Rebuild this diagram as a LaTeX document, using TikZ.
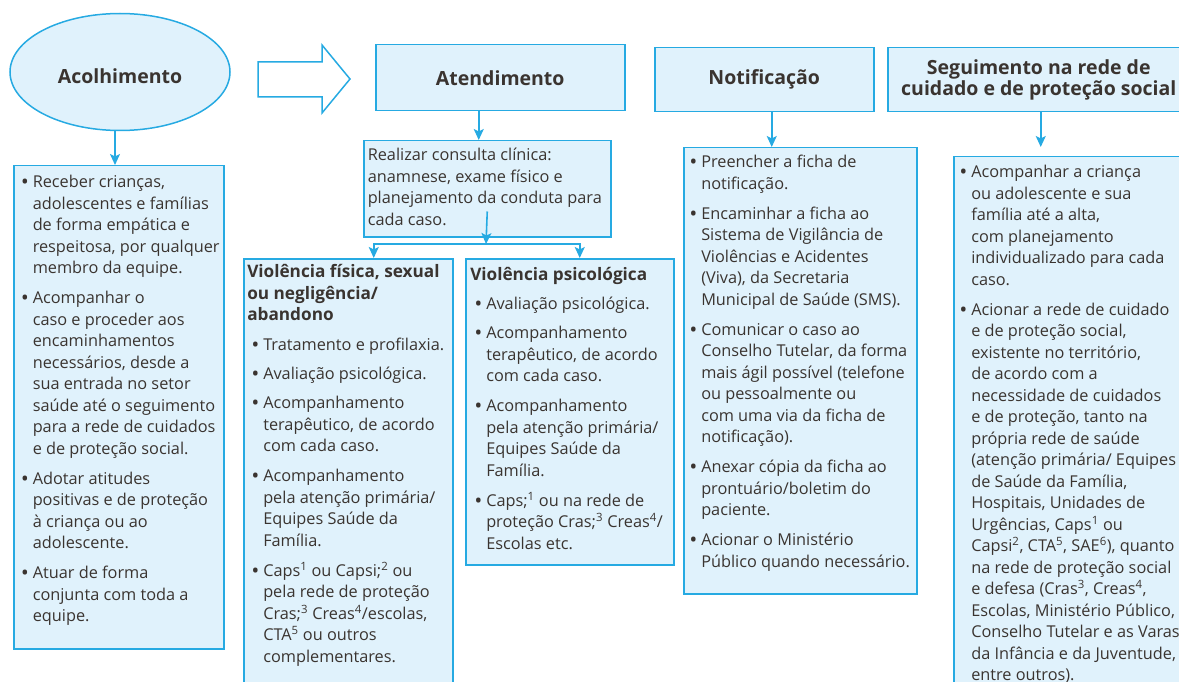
\documentclass[tikz,border=0pt]{standalone}
\usepackage{fontspec}
\setmainfont{Open Sans}
\usetikzlibrary{shapes.geometric, arrows.meta}
\definecolor{azul}{RGB}{38,170,226}
\definecolor{fundo}{RGB}{224,242,252}
\definecolor{texto}{RGB}{58,52,48}
\newlength{\bw}
\setlength{\bw}{11pt}
\newcommand{\bl}[1]{\makebox[\bw][l]{\bfseries\textbullet}\begin{tabular}[t]{@{}l@{}}#1\end{tabular}\par}
\newcommand{\linhas}[1]{\begin{tabular}[t]{@{}l@{}}#1\end{tabular}\par}
\newcommand{\bloco}[3]{\parbox[c][#2][t]{#1}{\setlength{\parskip}{7.5pt}#3}}
\newcommand{\corpo}{\fontsize{16.3}{21.5}\selectfont}
\newcommand{\subtit}{\bfseries\fontsize{17.2}{21.5}\selectfont}
\tikzset{
	caixa/.style = {draw=azul, fill=fundo, line width=1.5pt, text=texto},
	titulo/.style = {caixa, anchor=north west, inner sep=0pt, align=center, font=\bfseries\fontsize{19.5}{19}\selectfont},
	lista/.style = {caixa, anchor=north west, font=\corpo},
	seta/.style = {draw=azul, line width=1.6pt, -{Stealth[length=11pt, width=10pt, inset=2.5pt]}}
}

\begin{document}
\begin{tikzpicture}[x=1pt, y=-1pt]
	\useasboundingbox (0,0) rectangle (1179,682);
	\clip (0,0) rectangle (1179,682);
	\node[caixa, ellipse, minimum width=220pt, minimum height=117pt, inner sep=0pt, font=\bfseries\fontsize{19.5}{19}\selectfont, text height=24pt] (acolhimento) at (120,72) {Acolhimento};
	\draw[caixa, fill=white] (258,62) -- (322,62) -- (322,45) -- (350,79) -- (322,113) -- (322,97) -- (258,97) -- cycle;
	\node[titulo, minimum width=249pt, minimum height=66pt] (atendimento) at (375,44) {Atendimento};
	\node[titulo, minimum width=219pt, minimum height=64pt] (notificacao) at (654,47) {Notificação};
	\node[titulo, minimum width=302pt, minimum height=64pt] (seguimento) at (887,47) {Seguimento na rede de\\cuidado e de proteção social};

	\node[lista, inner xsep=8pt, inner ysep=7pt] (acolhlista) at (13,165) {\bloco{194pt}{469pt}{
		\bl{Receber crianças,\\adolescentes e famílias\\de forma empática e\\respeitosa, por qualquer\\membro da equipe.}
		\bl{Acompanhar o\\caso e proceder aos\\encaminhamentos\\necessários, desde a\\sua entrada no setor\\saúde até o seguimento\\para a rede de cuidados\\e de proteção social.}
		\bl{Adotar atitudes\\positivas e de proteção\\à criança ou ao\\adolescente.}
		\bl{Atuar de forma\\conjunta com toda a\\equipe.}
	}};
	\node[lista, inner xsep=4pt, inner ysep=5pt] (consulta) at (363,140) {\bloco{239pt}{86pt}{
		\linhas{Realizar consulta clínica:\\anamnese, exame físico e\\planejamento da conduta para\\cada caso.}
	}};
	\node[lista, inner xsep=3.5pt, inner ysep=4pt] (fisica) at (243,258) {\bloco{202pt}{432pt}{
		{\subtit\linhas{Violência física, sexual\\ou negligência/\\abandono}}
		\leftskip=5pt
		\bl{Tratamento e profilaxia.}
		\bl{Avaliação psicológica.}
		\bl{Acompanhamento\\terapêutico, de acordo\\com cada caso.}
		\bl{Acompanhamento\\pela atenção primária/\\Equipes Saúde da\\Família.}
		\bl{Caps\textsuperscript{1} ou Capsi;\textsuperscript{2} ou\\pela rede de proteção\\Cras;\textsuperscript{3} Creas\textsuperscript{4}/escolas,\\CTA\textsuperscript{5} ou outros\\complementares.}
	}};
	\node[lista, inner xsep=4.5pt, inner ysep=7pt] (psicologica) at (465,258) {\bloco{199pt}{292pt}{
		{\subtit\linhas{Violência psicológica}}
		\leftskip=5pt
		\bl{Avaliação psicológica.}
		\bl{Acompanhamento\\terapêutico, de acordo\\com cada caso.}
		\bl{Acompanhamento\\pela atenção primária/\\Equipes Saúde da\\Família.}
		\bl{Caps;\textsuperscript{1} ou na rede de\\proteção Cras;\textsuperscript{3} Creas\textsuperscript{4}/\\Escolas etc.}
	}};
	\node[lista, inner xsep=6.5pt, inner ysep=5pt] (notiflista) at (683,147) {\bloco{220pt}{436pt}{
		\bl{Preencher a ficha de\\notificação.}
		\bl{Encaminhar a ficha ao\\Sistema de Vigilância de\\Violências e Acidentes\\(Viva), da Secretaria\\Municipal de Saúde (SMS).}
		\bl{Comunicar o caso ao\\Conselho Tutelar, da forma\\mais ágil possível (telefone\\ou pessoalmente ou\\com uma via da ficha de\\notificação).}
		\bl{Anexar cópia da ficha ao\\prontuário/boletim do\\paciente.}
		\bl{Acionar o Ministério\\Público quando necessário.}
	}};
	\node[lista, inner xsep=6.5pt, inner ysep=6pt] (seglista) at (953,156) {\bloco{227pt}{534pt}{
		\bl{Acompanhar a criança\\ou adolescente e sua\\família até a alta,\\com planejamento\\individualizado para cada\\caso.}
		\bl{Acionar a rede de cuidado\\e de proteção social,\\existente no território,\\de acordo com a\\necessidade de cuidados\\e de proteção, tanto na\\própria rede de saúde\\(atenção primária/ Equipes\\de Saúde da Família,\\Hospitais, Unidades de\\Urgências, Caps\textsuperscript{1} ou\\Capsi\textsuperscript{2}, CTA\textsuperscript{5}, SAE\textsuperscript{6}), quanto\\na rede de proteção social\\e defesa (Cras\textsuperscript{3}, Creas\textsuperscript{4},\\Escolas, Ministério Público,\\Conselho Tutelar e as Varas\\da Infância e da Juventude,\\entre outros).}
	}};

	\foreach \de/\para/\dx/\enc in {acolhimento/acolhlista/-5/0, atendimento/consulta/-21.5/0, notificacao/notiflista/7.5/0, seguimento/seglista/2/9} {
		\path ([xshift=\dx pt]\de.south) coordinate (p);
		\draw[seta, shorten >=\enc pt] (p) -- (p |- \para.north);
	}
	\coordinate (ramo) at (486,244);
	\draw[seta] ([yshift=26pt]consulta.south) -- (ramo);
	\path ([xshift=25.5pt]fisica.north) coordinate (f) ([xshift=10pt]psicologica.north) coordinate (s);
	\draw[seta] (ramo) -| (f);
	\draw[seta] (ramo) -| (s);
\end{tikzpicture}
\end{document}
